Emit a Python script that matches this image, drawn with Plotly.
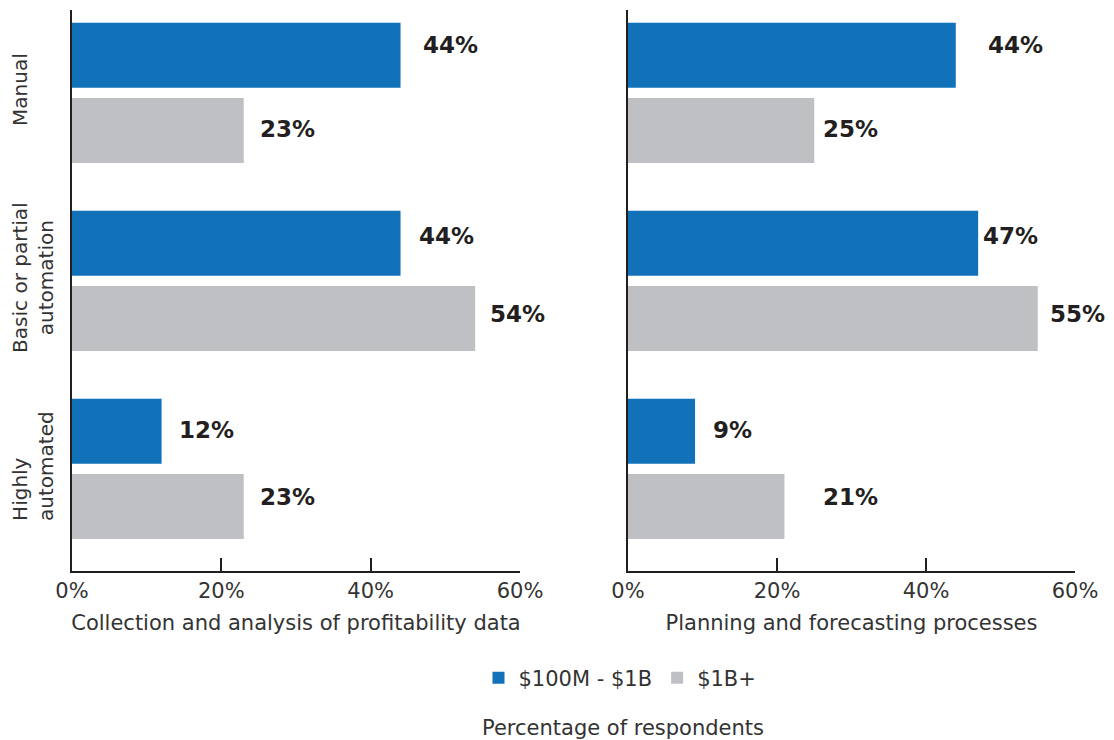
import plotly.graph_objects as go

# Automation level categories and respondent shares (%)
categories = ["Manual", "Basic or partial<br>automation", "Highly<br>automated"]
series_names = ["$100M - $1B", "$1B+"]
profitability_mid = [44, 44, 12]
profitability_large = [23, 54, 23]
planning_mid = [44, 47, 9]
planning_large = [25, 55, 21]
x_ticks = [0, 20, 40, 60]
x_tick_labels = ["0%", "20%", "40%", "60%"]
panel_titles = ["Collection and analysis of profitability data",
                "Planning and forecasting processes"]

BLUE = "#1172BA"
GRAY = "#BFC0C4"
TEXT = "#231F20"
AXIS = "#231F20"
LABEL = "#333333"
FONT = "DejaVu Sans"

W, H = 1114, 740

# pixel nudges for the value labels (per category: mid-size bar, large bar)
label_dx = {
    "x": [(20, 14), (16, 13), (15, 14)],
    "x2": [(30, 7), (3, 10), (16, 37)],
}
label_dy = [(-10, -2), (-7, -5), (-1, -10)]
category_align = ["center", "center", "left"]

fig = go.Figure()

panels = [
    ("x", "y", profitability_mid, profitability_large, True),
    ("x2", "y2", planning_mid, planning_large, False),
]

for xa, ya, mid, large, show in panels:
    for name, vals, color in [(series_names[0], mid, BLUE), (series_names[1], large, GRAY)]:
        fig.add_trace(go.Bar(
            y=categories, x=vals, orientation="h", name=name,
            marker=dict(color=color, line=dict(width=0)),
            xaxis=xa, yaxis=ya, showlegend=show, legendgroup=name,
            hoverinfo="skip",
        ))
    # value labels beside each bar
    for i in range(len(categories)):
        for j, (v, off) in enumerate([(mid[i], -0.2), (large[i], 0.2)]):
            fig.add_annotation(
                x=v, y=i + off, xref=xa, yref=ya,
                text=f"<b>{v}%</b>", showarrow=False,
                xanchor="left", yanchor="middle",
                xshift=label_dx[xa][i][j], yshift=-label_dy[i][j],
                font=dict(family=FONT, size=23, color=TEXT),
            )

# rotated category labels at the left of the first panel
for i, cat in enumerate(categories):
    n_lines = cat.count("<br>") + 1
    fig.add_annotation(
        x=(20 + 13 * (n_lines - 1)) / W, y=i, xref="paper", yref="y",
        text=cat, showarrow=False, textangle=-90,
        xanchor="center", yanchor="middle", align=category_align[i],
        yshift=3,
        font=dict(family=FONT, size=20, color=LABEL),
    )

y_range = [2.543, -0.441]
axis_common = dict(
    showline=True, linecolor=AXIS, linewidth=2,
    showgrid=False, zeroline=False,
)


def x_axis(domain, anchor, title):
    return dict(
        domain=domain, range=[0, 60], tickvals=x_ticks,
        ticktext=x_tick_labels, ticks="inside", ticklen=13,
        tickwidth=2, tickcolor=AXIS, anchor=anchor,
        tickfont=dict(family=FONT, size=21, color=LABEL),
        title=dict(text=title, standoff=13,
                   font=dict(family=FONT, size=21, color=LABEL)),
        automargin=False, **axis_common,
    )


fig.update_layout(
    width=W, height=H,
    margin=dict(l=0, r=0, t=0, b=0),
    paper_bgcolor="white", plot_bgcolor="white",
    barmode="group", bargap=0.2, bargroupgap=0.135,
    font=dict(family=FONT, size=21, color=LABEL),
    xaxis=x_axis([72 / W, 520 / W], "y", panel_titles[0]),
    xaxis2=x_axis([628 / W, 1075 / W], "y2", panel_titles[1]),
    yaxis=dict(domain=[1 - 571 / H, 1 - 10 / H], type="category",
               range=y_range, showticklabels=False, anchor="x",
               automargin=False, **axis_common),
    yaxis2=dict(domain=[1 - 571 / H, 1 - 10 / H], type="category",
                range=y_range, showticklabels=False, anchor="x2",
                automargin=False, **axis_common),
    legend=dict(orientation="h", x=620 / W, xanchor="center",
                y=1 - 678 / H, yanchor="middle",
                font=dict(family=FONT, size=21, color=LABEL),
                traceorder="normal", itemclick=False, itemdoubleclick=False),
)

fig.add_annotation(
    x=623 / W, y=1 - 728 / H, xref="paper", yref="paper",
    text="Percentage of respondents", showarrow=False,
    xanchor="center", yanchor="middle",
    font=dict(family=FONT, size=21, color=LABEL),
)

fig.write_html("out.html")
